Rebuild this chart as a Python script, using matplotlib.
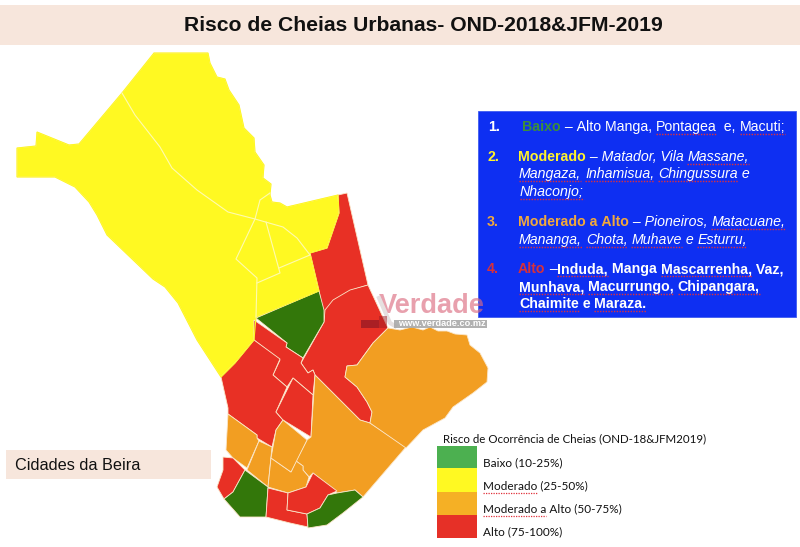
import matplotlib
matplotlib.use('Agg')
import matplotlib.pyplot as plt
from matplotlib.patches import Polygon, Rectangle

# Map outlines in pixel coordinates
YELLOW_WEST = [(154, 53), (208, 53), (210, 63), (217, 77), (225, 79), (229, 90), (239, 105), (244, 128),
               (254, 138), (255, 152), (264, 165), (263, 178), (271, 184), (270, 195), (272, 202), (280, 203),
               (287, 207), (338, 195), (339, 213), (327, 248), (310, 253), (319, 291), (256, 317), (254, 340),
               (235, 363), (221, 377), (197, 340), (178, 303), (165, 287), (153, 279), (107, 235), (97, 215),
               (89, 202), (75, 187), (67, 183), (55, 177), (35, 177), (17, 177), (17, 148), (36, 146),
               (37, 132), (69, 145), (79, 144), (122, 93)]
RED_NORTH = [(338, 195), (347, 193), (368, 285), (352, 290), (337, 303), (324, 317), (319, 291), (310, 253),
             (327, 248), (339, 213)]
RED_EAST = [(368, 285), (388, 328), (373, 343), (357, 365), (347, 366), (345, 377), (357, 387), (367, 402),
            (372, 412), (370, 423), (360, 420), (315, 375), (313, 370), (308, 373), (301, 363), (324, 322),
            (325, 310), (333, 300), (350, 290)]
GREEN_NORTH = [(319, 291), (324, 310), (324, 322), (303, 358), (286, 347), (287, 343), (256, 318)]
RED_CENTRE = [(254, 320), (287, 343), (286, 347), (303, 358), (301, 363), (308, 373), (313, 370), (315, 375),
              (313, 395), (293, 378), (287, 387), (273, 375), (280, 360), (254, 340)]
RED_WEST = [(254, 340), (280, 359), (273, 375), (287, 387), (276, 412), (283, 420), (276, 430), (272, 447),
            (257, 438), (257, 435), (228, 414), (228, 408), (221, 377), (235, 363)]
RED_MIDDLE = [(293, 378), (313, 395), (311, 437), (283, 420), (276, 412)]
ORANGE_BIG = [(315, 375), (360, 420), (370, 423), (406, 447), (363, 497), (355, 490), (337, 493), (313, 473),
              (309, 477), (303, 470), (303, 466), (296, 461), (307, 440), (311, 437)]
ORANGE_NE = [(370, 423), (372, 412), (367, 402), (357, 387), (345, 377), (347, 366), (357, 365), (373, 343),
             (388, 328), (400, 330), (412, 327), (423, 330), (430, 327), (438, 331), (447, 331), (455, 334),
             (467, 335), (470, 345), (480, 353), (488, 368), (487, 382),
             (473, 393), (453, 407), (445, 418), (423, 430), (406, 448)]
ORANGE_SW1 = [(228, 414), (257, 435), (257, 438), (259, 441), (247, 468), (233, 458), (226, 450)]
ORANGE_SW2 = [(259, 441), (272, 447), (268, 487), (247, 470)]
ORANGE_SW3 = [(271, 458), (291, 472), (296, 461), (303, 466), (303, 470), (309, 477), (306, 487), (288, 493),
              (268, 487)]
ORANGE_SW4 = [(283, 420), (307, 440), (291, 472), (271, 458), (276, 430)]
RED_SW = [(223, 457), (233, 458), (245, 470), (233, 492), (224, 499), (217, 487), (223, 470)]
GREEN_SW = [(245, 470), (268, 487), (266, 517), (240, 517), (224, 499), (233, 492)]
RED_S1 = [(268, 488), (288, 493), (287, 510), (307, 514), (308, 527), (290, 523), (266, 517)]
RED_S2 = [(288, 493), (306, 487), (313, 473), (337, 491), (328, 495), (320, 508), (307, 514), (287, 510)]
GREEN_SE = [(337, 493), (355, 490), (363, 497), (343, 513), (327, 525), (308, 528), (307, 514), (320, 508),
            (328, 495)]

# White borders inside the yellow zone
YELLOW_BORDERS = [
    [(122, 93), (135, 115), (160, 147), (172, 168), (197, 190), (228, 212), (255, 219), (283, 227), (297, 238),
     (310, 255)],
    [(270, 193), (260, 200), (255, 219), (236, 259), (257, 278), (256, 317)],
    [(266, 222), (280, 273), (257, 283)],
    [(279, 268), (310, 255)],
]
# Watermark tick over the V
WATERMARK_TICK = [(379, 298), (390, 323), (395, 326)]

YELLOW = '#FFF922'
RED = '#E83025'
ORANGE = '#F29E22'
GREEN = '#33770A'
BAND = '#F7E6DC'
BLUE = '#0E2FF2'

REGIONS = [
    (YELLOW_WEST, YELLOW), (RED_NORTH, RED), (RED_EAST, RED), (GREEN_NORTH, GREEN), (RED_CENTRE, RED),
    (RED_WEST, RED), (RED_MIDDLE, RED), (ORANGE_BIG, ORANGE), (ORANGE_NE, ORANGE), (ORANGE_SW1, ORANGE),
    (ORANGE_SW2, ORANGE), (ORANGE_SW3, ORANGE), (ORANGE_SW4, ORANGE), (RED_SW, RED), (GREEN_SW, GREEN),
    (RED_S1, RED), (RED_S2, RED), (GREEN_SE, GREEN),
]

LEGEND_LABELS = ['Baixo (10-25%)', 'Moderado (25-50%)', 'Moderado a Alto (50-75%)', 'Alto (75-100%)']
LEGEND_COLORS = ['#4CB050', '#FFF922', '#F5B025', '#E63027']
LEGEND_SQUIGGLE = [None, 'Moderado', 'Moderado a', None]

# Blue box text, each line is (x, baseline y, runs); a run is (text, colour, weight, style, squiggle)
W = 'white'
BOX_LINES = [
    (488, 131, [('1.', W, 'bold', 'normal', False)]),
    (522, 131, [('Baixo', '#3C8F3A', 'bold', 'normal', False), (' – Alto Manga, ', W, 'normal', 'normal', False),
                ('Pontagea', W, 'normal', 'normal', True), ('  e, ', W, 'normal', 'normal', False),
                ('Macuti;', W, 'normal', 'normal', True)]),
    (487, 161, [('2.', '#FFF22C', 'bold', 'normal', False)]),
    (518, 161, [('Moderado', '#FFF22C', 'bold', 'normal', False), (' – Matador, Vila ', W, 'normal', 'italic', False),
                ('Massane,', W, 'normal', 'italic', True)]),
    (519, 178, [('Mangaza,', W, 'normal', 'italic', True), (' ', W, 'normal', 'italic', False),
                ('Inhamisua,', W, 'normal', 'italic', True), (' ', W, 'normal', 'italic', False),
                ('Chingussura', W, 'normal', 'italic', True), (' e', W, 'normal', 'italic', False)]),
    (520, 196, [('Nhaconjo;', W, 'normal', 'italic', True)]),
    (487, 226, [('3.', '#F2A93B', 'bold', 'normal', False)]),
    (518, 226, [('Moderado a Alto', '#F2A93B', 'bold', 'normal', False),
                (' – Pioneiros, ', W, 'normal', 'italic', False), ('Matacuane,', W, 'normal', 'italic', True)]),
    (519, 244, [('Mananga,', W, 'normal', 'italic', True), (' ', W, 'normal', 'italic', False),
                ('Chota,', W, 'normal', 'italic', True), (' ', W, 'normal', 'italic', False),
                ('Muhave', W, 'normal', 'italic', True), (' e ', W, 'normal', 'italic', False),
                ('Esturru,', W, 'normal', 'italic', True)]),
    (487, 273, [('4.', '#D8313A', 'bold', 'normal', False)]),
    (518, 273, [('Alto', '#D8313A', 'bold', 'normal', False), (' –', W, 'normal', 'normal', False),
                ('Induda,', W, 'bold', 'normal', True), (' Manga ', W, 'bold', 'normal', False),
                ('Mascarrenha,', W, 'bold', 'normal', True), (' Vaz,', W, 'bold', 'normal', False)]),
    (519, 291, [('Munhava,', W, 'bold', 'normal', True), (' ', W, 'bold', 'normal', False),
                ('Macurrungo,', W, 'bold', 'normal', True), (' ', W, 'bold', 'normal', False),
                ('Chipangara,', W, 'bold', 'normal', True)]),
    (519, 308, [('Chaimite', W, 'bold', 'normal', True), (' e ', W, 'bold', 'normal', False),
                ('Maraza.', W, 'bold', 'normal', True)]),
]


def draw_runs(ax, x, y, runs, size):
    """Draw coloured runs one after the other on a shared baseline."""
    renderer = ax.figure.canvas.get_renderer()
    for text, color, weight, style, squiggle in runs:
        # non breaking spaces so that spaces count in the measure
        probe = ax.text(0, 0, text.replace(' ', '\u00a0'), fontsize=size, fontweight=weight, fontstyle=style,
                        family='Liberation Sans')
        width = probe.get_window_extent(renderer).width
        probe.remove()
        ax.text(x, y, text.replace(' ', '\u00a0'), color=color, fontsize=size, fontweight=weight, fontstyle=style,
                family='Liberation Sans', va='baseline', ha='left', zorder=6)
        if squiggle:
            ax.plot([x, x + width], [y + 3, y + 3], color='#E0303A', lw=1.0, ls=(0, (1, 1)), zorder=6)
        x += width


def main():
    fig = plt.figure(figsize=(8.0, 5.47), dpi=100)
    ax = fig.add_axes([0, 0, 1, 1])
    ax.set_xlim(0, 800)
    ax.set_ylim(547, 0)
    ax.axis('off')
    fig.canvas.draw()

    # Title band
    ax.add_patch(Rectangle((0, 5), 800, 40, color=BAND, lw=0))
    ax.text(423.5, 31, 'Risco de Cheias Urbanas- OND-2018&JFM-2019', fontsize=15.2, fontweight='bold',
            family='Liberation Sans', ha='center', va='baseline', color='#111111')

    # Map
    for points, color in REGIONS:
        ax.add_patch(Polygon(points, closed=True, facecolor=color, edgecolor='#FBE6C8', lw=0.6, zorder=2))
    ax.add_patch(Polygon(YELLOW_WEST, closed=True, facecolor='none', edgecolor=YELLOW, lw=0.8, zorder=2))
    for line in YELLOW_BORDERS:
        ax.plot([p[0] for p in line], [p[1] for p in line], color='#FFFBB0', lw=0.8, zorder=3)

    # Blue box
    ax.add_patch(Rectangle((478, 111), 318, 206, facecolor=BLUE, edgecolor='#3F5CF0', lw=0.6, zorder=4))
    for x, y, runs in BOX_LINES:
        draw_runs(ax, x, y, runs, 10.15)

    # Watermark
    ax.text(379, 306, 'Verdade', fontsize=19.6, fontweight='bold', family='Liberation Sans', color='#DC6E82',
            alpha=0.65, ha='left', va='center', zorder=5)
    ax.plot([p[0] for p in WATERMARK_TICK], [p[1] for p in WATERMARK_TICK], color='#E6E0E0', lw=3, zorder=5)
    ax.add_patch(Rectangle((394, 320), 93, 7.5, color='#A9A9A9', lw=0, alpha=0.9, zorder=5))
    ax.text(398, 324, 'www.verdade.co.mz', fontsize=6.6, fontweight='bold', family='Liberation Sans', color='white',
            ha='left', va='center', zorder=6)
    ax.add_patch(Rectangle((361, 320), 18, 7.5, color='#A01C24', lw=0, alpha=0.85, zorder=5))
    ax.add_patch(Rectangle((379, 316), 8, 11.5, color='#A01C24', lw=0, alpha=0.5, zorder=5))

    # Legend
    ax.text(443, 439, 'Risco de Ocorrência de Cheias (OND-18&JFM2019)', fontsize=8.3, family='Lato', ha='left',
            va='center', color='#111111', zorder=6)
    tops = [446, 468, 492, 515]
    bottoms = [468, 492, 515, 538]
    text_y = [463, 486, 509, 532]
    for i in range(4):
        ax.add_patch(Rectangle((437, tops[i]), 40, bottoms[i] - tops[i], color=LEGEND_COLORS[i], lw=0, zorder=4))
        ax.text(483, text_y[i], LEGEND_LABELS[i], fontsize=8.45, family='Lato', ha='left', va='center',
                color='#111111', zorder=6)
        if LEGEND_SQUIGGLE[i]:
            probe = ax.text(0, 0, LEGEND_SQUIGGLE[i].replace(' ', '\u00a0'), fontsize=8.45, family='Lato')
            width = probe.get_window_extent(fig.canvas.get_renderer()).width
            probe.remove()
            ax.plot([483, 483 + width], [text_y[i] + 6.5, text_y[i] + 6.5], color='#E0303A', lw=0.9,
                    ls=(0, (1, 1)), zorder=6)

    # Lower left label
    ax.add_patch(Rectangle((6, 450), 205, 29, color=BAND, lw=0))
    ax.text(15, 466, 'Cidades da Beira', fontsize=11.7, family='Liberation Sans', ha='left', va='center',
            color='#111111')

    fig.savefig('out.png', dpi=100)


if __name__ == "__main__":
    main()
